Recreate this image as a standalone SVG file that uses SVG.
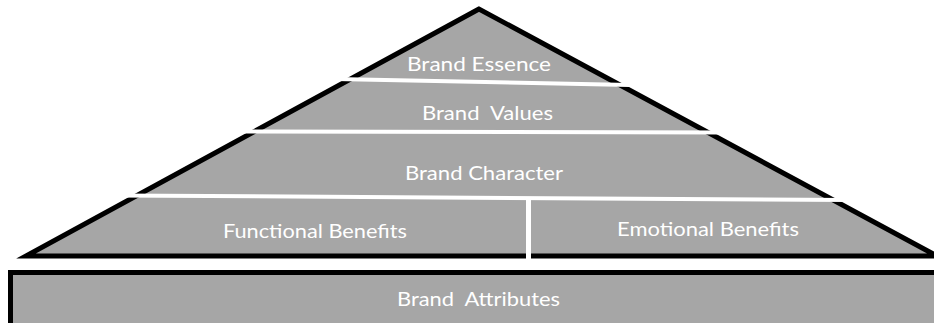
<svg xmlns="http://www.w3.org/2000/svg" width="934" height="323" viewBox="0 0 934 323">
  <style>
    .band { fill: #a6a6a6; stroke: #000; stroke-width: 5; stroke-linejoin: miter; stroke-miterlimit: 10; }
    .gap { stroke: #fff; stroke-width: 4; fill: none; }
    .lbl { font-family: Lato, "Open Sans", sans-serif; font-size: 19px; fill: #fff; text-anchor: middle; }
  </style>
  <rect width="934" height="323" fill="#fff"/>
  <g id="pyramid">
    <polygon class="band" points="479,9 26,256 937,256"/>
  </g>
  <g id="connectors">
    <line class="gap" x1="335" y1="79" x2="630" y2="85"/>
    <line class="gap" x1="230" y1="131.5" x2="730" y2="132.5"/>
    <line class="gap" x1="115" y1="195.5" x2="850" y2="200"/>
    <line x1="528.5" y1="197" x2="528.5" y2="272" stroke="#fff" stroke-width="5"/>
  </g>
  <g id="essence">
    <text class="lbl" x="479" y="71" textLength="144" lengthAdjust="spacingAndGlyphs">Brand Essence</text>
  </g>
  <g id="values">
    <text class="lbl" x="487.5" y="120" textLength="131" lengthAdjust="spacingAndGlyphs" xml:space="preserve">Brand  Values</text>
  </g>
  <g id="character">
    <text class="lbl" x="484" y="180" textLength="158" lengthAdjust="spacingAndGlyphs">Brand Character</text>
  </g>
  <g id="functional">
    <text class="lbl" x="315" y="238" textLength="184" lengthAdjust="spacingAndGlyphs">Functional Benefits</text>
  </g>
  <g id="emotional">
    <text class="lbl" x="708" y="236" textLength="182" lengthAdjust="spacingAndGlyphs">Emotional Benefits</text>
  </g>
  <g id="attributes">
    <rect class="band" x="10.5" y="272.5" width="940" height="60"/>
    <text class="lbl" x="478.5" y="306" textLength="163" lengthAdjust="spacingAndGlyphs" xml:space="preserve">Brand  Attributes</text>
  </g>
</svg>
